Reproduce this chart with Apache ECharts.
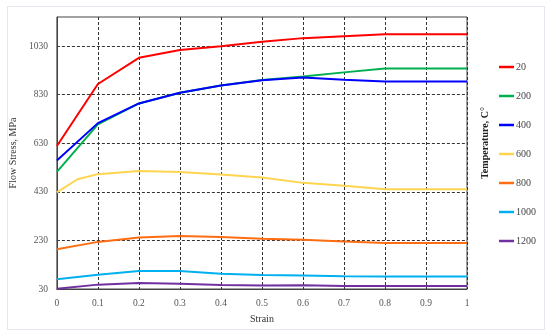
<!DOCTYPE html>
<html>
<head>
<meta charset="utf-8">
<script src="https://cdn.jsdelivr.net/npm/echarts@6/dist/echarts.min.js"></script>
<style>
html, body { margin: 0; padding: 0; background: #fff; }
#main { width: 550px; height: 335px; }
</style>
</head>
<body>
<div id="main"></div>
<script>
// strain points
var strain = [0, 0.1, 0.2, 0.3, 0.4, 0.5, 0.6, 0.7, 0.8, 0.9, 1];
var strain600 = [0, 0.05, 0.1, 0.2, 0.3, 0.4, 0.5, 0.6, 0.7, 0.8, 0.9, 1];
// flow stress, MPa
var t20 = [619, 874, 982, 1014, 1030, 1048, 1063, 1071, 1079, 1079, 1079];
var t200 = [512, 708, 794, 838, 868, 891, 905, 922, 938, 938, 938];
var t400 = [559, 713, 794, 838, 868, 890, 901, 892, 884, 884, 884];
var t600 = [428, 482, 503, 516, 512, 501, 489, 467, 455, 441, 441, 441];
var t800 = [194, 224, 242, 248, 244, 237, 233, 226, 219, 219, 219];
var t1000 = [70, 89, 104, 104, 93, 88, 86, 83, 81, 81, 81];
var t1200 = [31, 48, 55, 52, 46, 44, 45, 42, 42, 42, 42];
var yTicks = [30, 230, 430, 630, 830, 1030];
var names = ['20', '200', '400', '600', '800', '1000', '1200'];
var colors = ['#ff0000', '#00b050', '#0000ff', '#ffd54f', '#ff6d12', '#00b0f0', '#7030a0'];

function pairs(xs, ys) {
    var out = [];
    for (var i = 0; i < ys.length; i++) out.push([xs[i], ys[i]]);
    return out;
}

var seriesData = [
    pairs(strain, t20),
    pairs(strain, t200),
    pairs(strain, t400),
    pairs(strain600, t600),
    pairs(strain, t800),
    pairs(strain, t1000),
    pairs(strain, t1200)
];

var font = 'Liberation Serif';
var chartDom = document.getElementById('main');
var myChart = echarts.init(chartDom);
var option;
option = {
    backgroundColor: '#fff',
    animation: false,
    color: colors,
    textStyle: { fontFamily: font },
    graphic: [
        {
            type: 'rect',
            shape: { x: 7.5, y: 6.5, width: 537, height: 323 },
            style: { fill: 'none', stroke: '#e3e6ef', lineWidth: 1 }
        },
        {
            type: 'text',
            x: 485, y: 143,
            rotation: Math.PI / 2,
            style: {
                text: 'Temperature, C°',
                font: 'bold 10px "Liberation Serif"',
                fill: '#222',
                align: 'center',
                verticalAlign: 'middle'
            }
        }
    ],
    grid: {
        left: 52, right: 83, top: 17, bottom: 46,
        show: true, borderColor: '#444', borderWidth: 1
    },
    legend: {
        orient: 'vertical',
        left: 494, top: 56,
        itemWidth: 15, itemHeight: 2.5,
        itemGap: 17,
        icon: 'rect',
        textStyle: { fontFamily: font, fontSize: 10, color: '#444', padding: [0, 0, 0, -3], height: 12, lineHeight: 12 },
        data: names
    },
    xAxis: {
        type: 'value',
        min: 0, max: 1, interval: 0.1,
        name: 'Strain',
        nameLocation: 'middle',
        nameGap: 25,
        nameTextStyle: { fontFamily: font, fontSize: 10, color: '#333' },
        axisLine: { lineStyle: { color: '#444' } },
        axisTick: { show: false },
        axisLabel: { fontFamily: font, fontSize: 9.5, color: '#555', margin: 9 },
        splitLine: { show: true, lineStyle: { color: '#333', type: [3, 2], width: 1 } }
    },
    yAxis: {
        type: 'value',
        min: 30, max: 1150,
        name: 'Flow Stress, MPa',
        nameLocation: 'middle',
        nameGap: 31,
        nameTextStyle: { fontFamily: font, fontSize: 10, color: '#333' },
        axisLine: { show: true, lineStyle: { color: '#444' } },
        axisTick: { show: false, customValues: yTicks },
        axisLabel: {
            fontFamily: font, fontSize: 9.5, color: '#555', margin: 9, customValues: yTicks,
            formatter: function (v) { return String(v); }
        },
        splitLine: { show: true, lineStyle: { color: '#333', type: [3, 2], width: 1 } }
    },
    series: []
};
for (var k = 0; k < names.length; k++) {
    option.series.push({
        name: names[k],
        type: 'line',
        data: seriesData[k],
        showSymbol: false,
        symbol: 'none',
        lineStyle: { width: 2, color: colors[k] },
        itemStyle: { color: colors[k] }
    });
}
option && myChart.setOption(option);
</script>
</body>
</html>
